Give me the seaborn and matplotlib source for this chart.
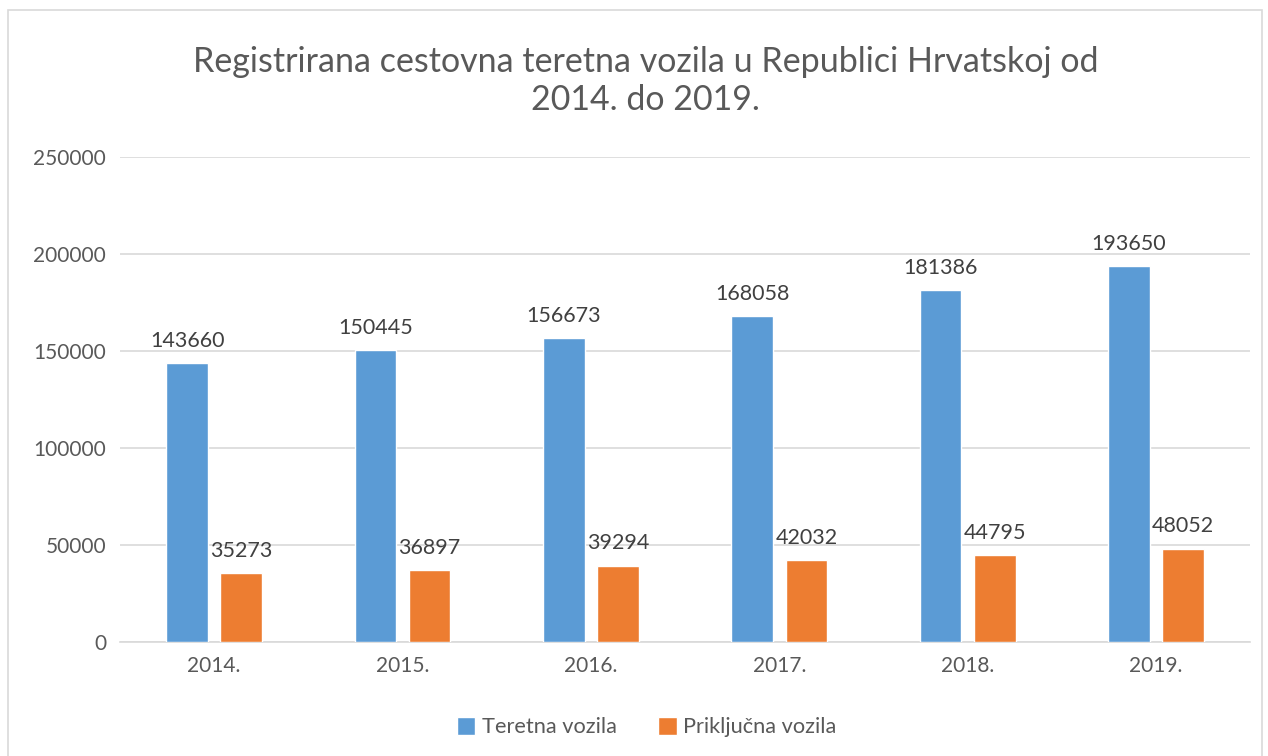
import pandas as pd
import numpy as np
import seaborn as sns
import matplotlib.pyplot as plt
from matplotlib.patches import Rectangle

# data
years = ['2014.', '2015.', '2016.', '2017.', '2018.', '2019.']
teretna = [143660, 150445, 156673, 168058, 181386, 193650]
prikljucna = [35273, 36897, 39294, 42032, 44795, 48052]
series_names = ['Teretna vozila', 'Priključna vozila']
colors = ['#5B9BD5', '#ED7D31']

df = pd.DataFrame({'Godina': years * 2,
                   'Broj': teretna + prikljucna,
                   'Vrsta': [series_names[0]] * len(years) + [series_names[1]] * len(years)})

sns.set_style('white')
plt.rcParams['font.family'] = ['Lato', 'DejaVu Sans']
txt = '#595959'

fig = plt.figure(figsize=(12.68, 7.56), dpi=100)
ax = fig.add_axes([0.0946, 0.151, 0.8914, 0.641])

sns.barplot(data=df, x='Godina', y='Broj', hue='Vrsta', palette=colors, saturation=1,
            width=0.574, gap=0.23, ax=ax, legend=True, zorder=3)

# data labels
for cont in ax.containers:
    for bar in cont:
        h = bar.get_height()
        ax.annotate(f'{int(h)}', (bar.get_x() + bar.get_width() / 2, h),
                    textcoords='offset points', xytext=(0, 9),
                    ha='center', va='bottom', fontsize=15.5, color='#404040')

ax.set_ylim(0, 250000)
ax.set_yticks(np.arange(0, 250001, 50000))
ax.grid(axis='y', color='#D9D9D9', linewidth=1.2, zorder=0)
ax.set_axisbelow(True)
for s in ['top', 'right', 'left']:
    ax.spines[s].set_visible(False)
ax.spines['bottom'].set_color('#D9D9D9')
ax.spines['bottom'].set_linewidth(1.2)
ax.tick_params(axis='both', length=0, labelsize=15, labelcolor=txt, pad=10)
ax.set_xlabel('')
ax.set_ylabel('')

# legend under the plot
handles, labels = ax.get_legend_handles_labels()
ax.legend(handles, labels, loc='center', bbox_to_anchor=(0.51, 0.038), bbox_transform=fig.transFigure,
          ncol=2, frameon=False, fontsize=15.7, labelcolor=txt,
          handlelength=0.85, handleheight=0.85, handletextpad=0.3, columnspacing=1.9)

# title
fig.text(0.509, 0.893, 'Registrirana cestovna teretna vozila u Republici Hrvatskoj od\n2014. do 2019.',
         ha='center', va='center', fontsize=24.5, color=txt, linespacing=1.25)

# chart border
fig.patches.append(Rectangle((0.0065, -0.01), 0.9885, 0.997, transform=fig.transFigure,
                             fill=False, edgecolor='#D9D9D9', linewidth=1.2))

fig.savefig('out.png', dpi=100)
